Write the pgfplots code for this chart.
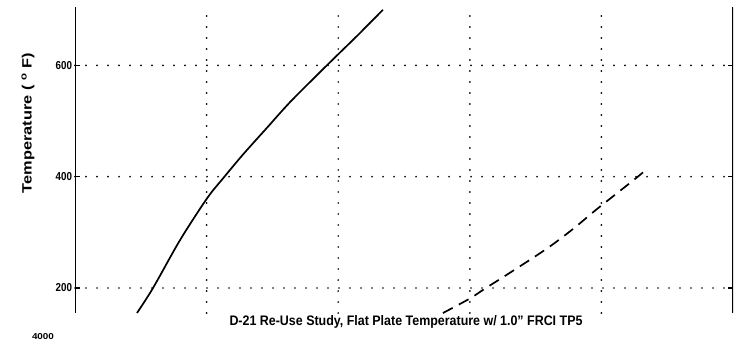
\documentclass[border=0pt]{standalone}
\usepackage{pgfplots}
\pgfplotsset{compat=1.18}
\usepackage{fontspec}
\setmainfont{Liberation Sans}
\begin{document}
\begin{tikzpicture}[x=1pt,y=1pt]
\useasboundingbox (0,0) rectangle (735,341);
\begin{axis}[at={(75pt,28pt)}, anchor=south west, scale only axis,
  width=658pt, height=306pt,
  xmin=0, xmax=5, ymin=155, ymax=705,
  xtick={1,2,3,4}, xticklabels={}, ytick={200,400,600},
  grid=major,
  grid style={line width=1.9pt, dash pattern=on 0pt off 11pt, line cap=round, black},
  axis line style={draw=none},
  tick align=inside, major tick length=5pt,
  tick style={line width=1.5pt, black},
  x tick style={draw=none},
  yticklabel style={font=\bfseries\fontsize{11.5}{11.5}\selectfont, xscale=0.85},
  /pgf/number format/assume math mode=true,
  clip=true]
\addplot[black, line width=1.7pt, smooth, tension=0.5] coordinates {
 (0.471,155) (0.593,200) (0.798,286) (1.003,361) (1.125,397) (1.277,440)
 (1.459,488) (1.634,534) (1.862,588) (1.991,618) (2.143,653) (2.340,700)};
\addplot[black, line width=1.7pt, dash pattern=on 11pt off 7pt, smooth, tension=0.5] coordinates {
 (2.796,155) (3.00,181) (3.116,199) (3.283,224) (3.587,271) (3.784,306)
 (3.967,342) (4.24,393) (4.347,414)};
\draw[line width=2.2pt] (rel axis cs:0,0) -- (rel axis cs:0,1);
\draw[line width=1.8pt] (rel axis cs:1,0) -- (rel axis cs:1,1);
\end{axis}
\node[rotate=90] at (28,218) {\resizebox{140pt}{10pt}{\bfseries Temperature ( \textsuperscript{o} F)}};
\node at (406,19) {\resizebox{353pt}{10pt}{\bfseries D-21 Re-Use Study, Flat Plate Temperature w/ 1.0" FRCI TP5}};
\node[inner sep=0pt] at (43,4.5) {\resizebox{22pt}{6pt}{\bfseries 4000}};
\end{tikzpicture}
\end{document}
